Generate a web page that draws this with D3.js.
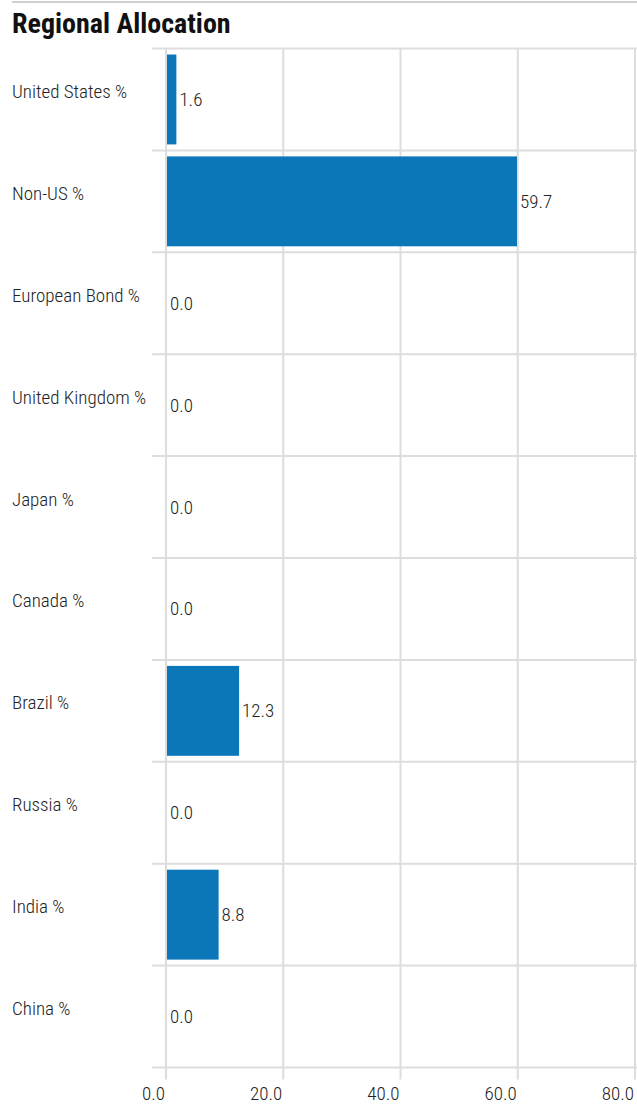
<!DOCTYPE html>
<html>
<head>
<meta charset="utf-8">
<script src="https://cdn.jsdelivr.net/npm/d3@7"></script>
<style>
  html, body { margin: 0; padding: 0; background: #fff; }
  svg { display: block; }
  text { font-family: "Roboto Condensed", "Liberation Sans Narrow", "Roboto", sans-serif; }
</style>
</head>
<body>
<svg id="chart" width="637" height="1106"></svg>
<script>
const categories = ["United States %", "Non-US %", "European Bond %", "United Kingdom %", "Japan %", "Canada %", "Brazil %", "Russia %", "India %", "China %"];
const values = [1.6, 59.7, 0.0, 0.0, 0.0, 0.0, 12.3, 0.0, 8.8, 0.0];
const tickValues = [0, 20, 40, 60, 80];
const title = "Regional Allocation";

const svg = d3.select("#chart");
const W = 637, H = 1106;
const m = { left: 166, right: 2, top: 48.5, bottom: 38.5 };

svg.append("line").attr("x1", 12).attr("x2", W).attr("y1", 2).attr("y2", 2)
  .attr("stroke", "#cfcfcf").attr("stroke-width", 2);

svg.append("text").attr("x", 12).attr("y", 33)
  .attr("font-size", 28).attr("font-weight", "bold").attr("fill", "#111")
  .text(title);

const x = d3.scaleLinear().domain([0, 80]).range([m.left, W - m.right]);
const y = d3.scaleBand().domain(categories).range([m.top, H - m.bottom]).paddingInner(0).paddingOuter(0);

const grid = svg.append("g");
const bounds = categories.map(c => y(c)).concat([y(categories[categories.length - 1]) + y.bandwidth()]);
grid.selectAll("line.h").data(bounds).join("line")
  .attr("class", "h")
  .attr("x1", m.left - 14).attr("x2", W)
  .attr("y1", d => d).attr("y2", d => d)
  .attr("stroke", "#dddddd").attr("stroke-width", 2);
grid.selectAll("line.v").data(tickValues).join("line")
  .attr("class", "v")
  .attr("x1", d => x(d)).attr("x2", d => x(d))
  .attr("y1", m.top).attr("y2", H - m.bottom + 12)
  .attr("stroke", "#dddddd").attr("stroke-width", 2);

svg.append("g").selectAll("text").data(tickValues).join("text")
  .attr("x", d => x(d) - 1).attr("y", 1100)
  .attr("text-anchor", "end")
  .attr("font-size", 19).attr("font-weight", 300).attr("fill", "#222")
  .text(d => d3.format(".1f")(d));

svg.append("g").selectAll("text").data(categories).join("text")
  .attr("x", 12).attr("y", d => y(d) + y.bandwidth() / 2 - 8)
  .attr("dominant-baseline", "central")
  .attr("font-size", 19).attr("font-weight", 300).attr("fill", "#222")
  .text(d => d);

const pad = 6;
svg.append("g").selectAll("rect").data(values).join("rect")
  .attr("x", x(0) + 1)
  .attr("y", (d, i) => y(categories[i]) + pad)
  .attr("width", d => Math.max(0, x(d) - x(0)))
  .attr("height", y.bandwidth() - 2 * pad)
  .attr("fill", "#0b76b8");

svg.append("g").selectAll("text").data(values).join("text")
  .attr("x", d => x(d) + 4)
  .attr("y", (d, i) => y(categories[i]) + y.bandwidth() / 2)
  .attr("dominant-baseline", "central")
  .attr("font-size", 19).attr("font-weight", 300).attr("fill", "#222")
  .text(d => d3.format(".1f")(d));
</script>
</body>
</html>
